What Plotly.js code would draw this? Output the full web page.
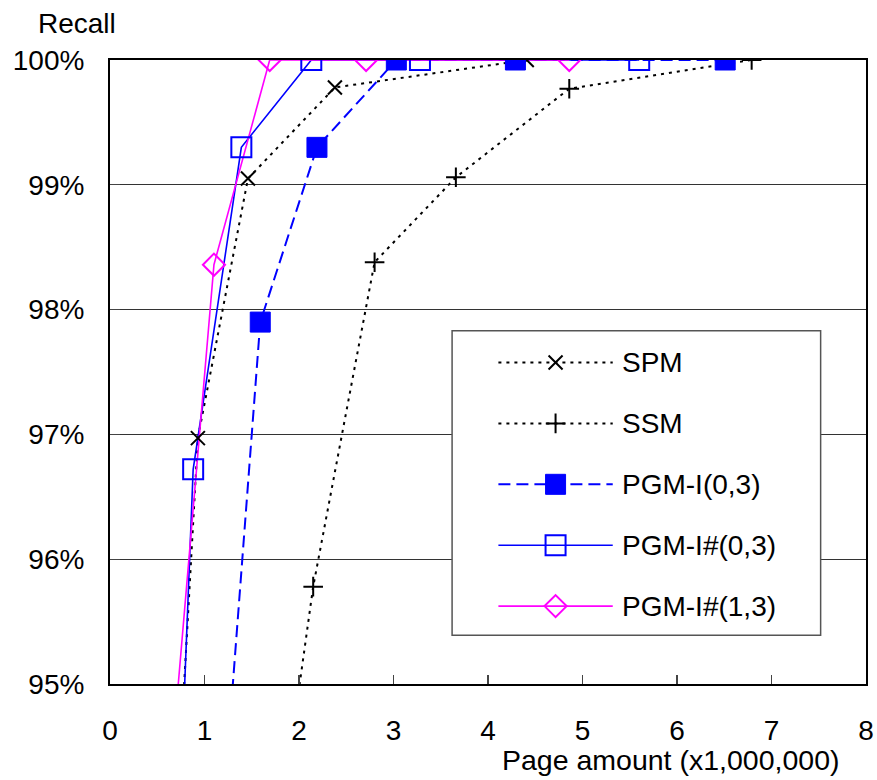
<!DOCTYPE html>
<html>
<head>
<meta charset="utf-8">
<script src="https://cdn.plot.ly/plotly-3.0.1.min.js"></script>
<style>
  html, body { margin: 0; padding: 0; background: #fff; }
  #chart { width: 877px; height: 780px; }
</style>
</head>
<body>
<div id="chart"></div>
<script>
// Recall (%) reached for a given page amount (millions of pages), per method.
const spmX = [0.77, 0.93, 1.46, 2.38, 4.41];
const spmY = [94.8, 96.97, 99.05, 99.78, 100];

const ssmX = [1.97, 2.15, 2.80, 3.66, 4.86, 6.79];
const ssmY = [94.8, 95.78, 98.38, 99.06, 99.77, 100];

const pgmI03X = [1.28, 1.59, 2.19, 3.03, 4.29, 6.51];
const pgmI03Y = [94.8, 97.90, 99.30, 100, 100, 100];

const pgmIs03X = [0.78, 0.88, 1.39, 2.13, 3.28, 5.60];
const pgmIs03Y = [94.8, 96.72, 99.30, 100, 100, 100];

const pgmIs13X = [0.70, 1.10, 1.69, 2.71, 4.86];
const pgmIs13Y = [94.8, 98.36, 100, 100, 100];

const seriesNames = ['SPM', 'SSM', 'PGM-I(0,3)', 'PGM-I#(0,3)', 'PGM-I#(1,3)'];
const xTickVals = [0, 1, 2, 3, 4, 5, 6, 7, 8];
const yTickVals = [95, 96, 97, 98, 99, 100];
const yTickText = ['95%', '96%', '97%', '98%', '99%', '100%'];

const seriesData = [
  [spmX, spmY], [ssmX, ssmY], [pgmI03X, pgmI03Y], [pgmIs03X, pgmIs03Y], [pgmIs13X, pgmIs13Y]
];

// Line and marker style of each method
const styles = [
  { color: '#000000', dash: '3px,5px',  width: 2,   symbol: 'x-thin-open',     size: 14, mline: 2 },
  { color: '#000000', dash: '3px,5px',  width: 2,   symbol: 'cross-thin-open', size: 14, mline: 2 },
  { color: '#0000ff', dash: '12px,6px', width: 2,   symbol: 'square',          size: 20, mline: 1 },
  { color: '#0000ff', dash: 'solid',    width: 1.6, symbol: 'square-open',     size: 20, mline: 2 },
  { color: '#ff00ff', dash: 'solid',    width: 1.6, symbol: 'diamond-open',    size: 17, mline: 2 }
];

const FONT = 'Liberation Sans, Arial, Helvetica, sans-serif';

// Key box placement, in axis units
const keyBox = { x0: 3.62, x1: 7.52, y0: 95.39, y1: 97.83 };
const keyRowTop = 97.576, keyRowStep = 0.488;
const keySampleX0 = 4.11, keySampleX1 = 5.32, keyMarkX = 4.715, keyTextX = 5.40;

const traces = [];
// all connecting lines first, so every marker sits on top
seriesData.forEach(([xs, ys], i) => {
  const s = styles[i];
  traces.push({
    x: xs, y: ys, type: 'scatter', mode: 'lines', hoverinfo: 'skip',
    line: { color: s.color, width: s.width, dash: s.dash }
  });
});
seriesData.forEach(([xs, ys], i) => {
  const s = styles[i];
  traces.push({
    x: xs, y: ys, type: 'scatter', mode: 'markers', name: seriesNames[i],
    marker: { symbol: s.symbol, size: s.size, color: s.color,
              line: { color: s.color, width: s.mline } }
  });
});

const shapes = [{
  type: 'rect', xref: 'x', yref: 'y', layer: 'between',
  x0: keyBox.x0, x1: keyBox.x1, y0: keyBox.y0, y1: keyBox.y1,
  fillcolor: '#ffffff', line: { color: '#555555', width: 1.5 }
}];
const annotations = [
  { text: 'Recall', xref: 'paper', yref: 'paper', x: -0.043, y: 1.059,
    xanchor: 'center', yanchor: 'middle', showarrow: false, font: { family: FONT, size: 28, color: '#000' } },
  { text: 'Page amount (x1,000,000)', xref: 'paper', yref: 'paper', x: 0.742, y: -0.122,
    xanchor: 'center', yanchor: 'middle', showarrow: false, font: { family: FONT, size: 28.5, color: '#000' } }
];

seriesNames.forEach((name, i) => {
  const s = styles[i];
  const ry = keyRowTop - i * keyRowStep;
  shapes.push({
    type: 'line', xref: 'x', yref: 'y', layer: 'between',
    x0: keySampleX0, x1: keySampleX1, y0: ry, y1: ry,
    line: { color: s.color, width: s.width, dash: s.dash }
  });
  traces.push({
    x: [keyMarkX], y: [ry], type: 'scatter', mode: 'markers', hoverinfo: 'skip',
    marker: { symbol: s.symbol, size: s.size, color: s.color,
              line: { color: s.color, width: s.mline } }
  });
  annotations.push({
    text: name, xref: 'x', yref: 'y', x: keyTextX, y: ry,
    xanchor: 'left', yanchor: 'middle', showarrow: false,
    font: { family: FONT, size: 28, color: '#000' }
  });
});

const layout = {
  width: 877, height: 780,
  margin: { l: 110, r: 11, t: 60, b: 96 },
  paper_bgcolor: '#ffffff', plot_bgcolor: '#ffffff',
  font: { family: FONT, size: 28, color: '#000' },
  showlegend: false,
  xaxis: {
    range: [0, 8], tickmode: 'array', tickvals: xTickVals, ticks: 'inside', ticklen: 9,
    tickcolor: '#444', tickwidth: 1.3, showline: true, mirror: true,
    linecolor: '#000', linewidth: 2, showgrid: false, zeroline: false,
    ticklabelstandoff: 20, tickfont: { family: FONT, size: 28, color: '#000' }
  },
  yaxis: {
    range: [95, 100], tickmode: 'array', tickvals: yTickVals, ticktext: yTickText,
    ticks: 'inside', ticklen: 10,
    tickcolor: '#444', tickwidth: 1.3, showline: true, mirror: true,
    linecolor: '#000', linewidth: 2, showgrid: true, gridcolor: '#333', gridwidth: 1.3,
    zeroline: false, ticklabelstandoff: 18, tickfont: { family: FONT, size: 28, color: '#000' }
  },
  shapes: shapes,
  annotations: annotations
};

Plotly.newPlot('chart', traces, layout, { staticPlot: true, displayModeBar: false });
</script>
</body>
</html>
